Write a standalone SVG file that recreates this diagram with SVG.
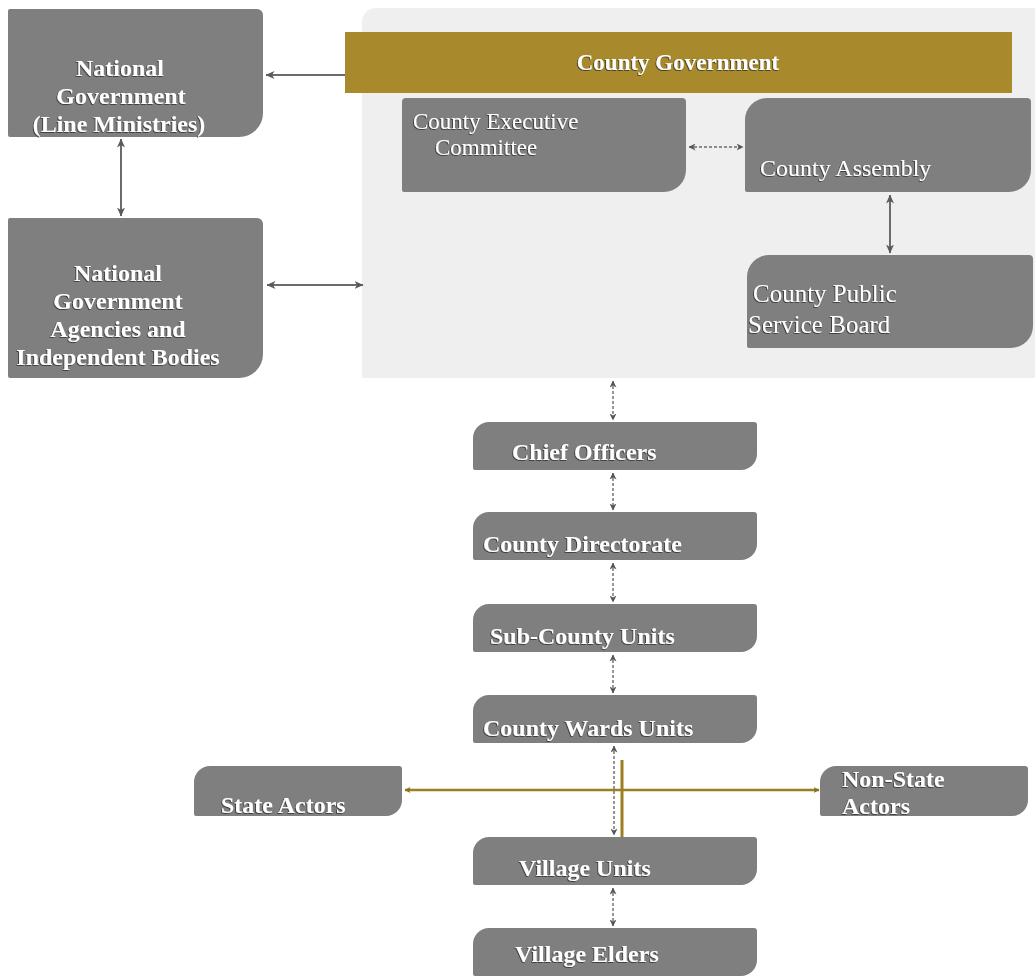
<svg xmlns="http://www.w3.org/2000/svg" xmlns:xlink="http://www.w3.org/1999/xlink" width="1035" height="976" viewBox="0 0 1035 976">
<style>
.box{fill:#7f7f7f}
.t{fill:#ffffff;font-family:"Liberation Serif","Times New Roman",serif;filter:url(#sh)}
.b{font-weight:bold;font-size:24px}
.r{font-weight:normal}
.c{text-anchor:middle}
.ln{stroke:#6b6b6b;stroke-width:2;fill:none}
.dl{stroke:#6b6b6b;stroke-width:1.4;stroke-dasharray:3 2;fill:none}
.gl{stroke:#9d7f22;fill:none}
</style>
<defs>
<filter id="sh" x="-5%" y="-20%" width="110%" height="140%">
<feDropShadow dx="-0.8" dy="0.8" stdDeviation="0.4" flood-color="#2a2a2a" flood-opacity="0.9"/>
</filter>
<marker id="ag" viewBox="0 0 9 8" refX="8.5" refY="4" markerWidth="9" markerHeight="8" markerUnits="userSpaceOnUse" orient="auto-start-reverse">
<path d="M0,0 L9,4 L0,8 L2.5,4 Z" fill="#5a5a5a"/>
</marker>
<marker id="as" viewBox="0 0 7 7" refX="6.5" refY="3.5" markerWidth="7" markerHeight="7" markerUnits="userSpaceOnUse" orient="auto-start-reverse">
<path d="M0,0 L7,3.5 L0,7 L2,3.5 Z" fill="#555555"/>
</marker>
<marker id="ao" viewBox="0 0 6 6" refX="5.5" refY="3" markerWidth="6" markerHeight="6" markerUnits="userSpaceOnUse" orient="auto-start-reverse">
<path d="M0,0 L6,3 L0,6 L1.5,3 Z" fill="#8a6f1c"/>
</marker>
<path id="cbox" d="M16,0 H281 A3,3 0 0 1 284,3 V32 A16,16 0 0 1 268,48 H2 A2,2 0 0 1 0,46 V16 A16,16 0 0 1 16,0 Z"/>
<path id="abox" d="M16,0 H205 A3,3 0 0 1 208,3 V34 A16,16 0 0 1 192,50 H2 A2,2 0 0 1 0,48 V16 A16,16 0 0 1 16,0 Z"/>
</defs>
<rect width="1035" height="976" fill="#ffffff"/>

<g id="county-government-panel">
<path d="M376,8 H1035 V378 H362 V22 A14,14 0 0 1 376,8 Z" fill="#efefef"/>
</g>

<g id="county-government">
<rect x="345" y="32" width="667" height="61" fill="#a8892c"/>
<text class="t b c" x="678" y="70" style="font-size:23px">County Government</text>
</g>

<g id="national-government">
<path class="box" d="M10,9 H257 A6,6 0 0 1 263,15 V113 A24,24 0 0 1 239,137 H10 A2,2 0 0 1 8,135 V11 A2,2 0 0 1 10,9 Z"/>
<text class="t b c" x="120" y="76">National</text>
<text class="t b c" x="121" y="104">Government</text>
<text class="t b c" x="119" y="132">(Line Ministries)</text>
</g>

<g id="national-agencies">
<path class="box" d="M10,218 H257 A6,6 0 0 1 263,224 V354 A24,24 0 0 1 239,378 H10 A2,2 0 0 1 8,376 V220 A2,2 0 0 1 10,218 Z"/>
<text class="t b c" x="118" y="281">National</text>
<text class="t b c" x="118" y="309">Government</text>
<text class="t b c" x="118" y="337">Agencies and</text>
<text class="t b c" x="118" y="365">Independent Bodies</text>
</g>

<g id="county-executive-committee">
<path class="box" d="M406,98 H682 A4,4 0 0 1 686,102 V170 A22,22 0 0 1 664,192 H404 A2,2 0 0 1 402,190 V102 A4,4 0 0 1 406,98 Z"/>
<text class="t r" x="413" y="129" style="font-size:23px">County Executive</text>
<text class="t r" x="435" y="155" style="font-size:23px">Committee</text>
</g>

<g id="county-assembly">
<path class="box" d="M767,98 H1027 A4,4 0 0 1 1031,102 V170 A22,22 0 0 1 1009,192 H747 A2,2 0 0 1 745,190 V120 A22,22 0 0 1 767,98 Z"/>
<text class="t r" x="760" y="176" style="font-size:24px">County Assembly</text>
</g>

<g id="county-public-service-board">
<path class="box" d="M769,255 H1029 A4,4 0 0 1 1033,259 V326 A22,22 0 0 1 1011,348 H749 A2,2 0 0 1 747,346 V277 A22,22 0 0 1 769,255 Z"/>
<text class="t r" x="753" y="302" style="font-size:25px">County Public</text>
<text class="t r" x="748" y="333" style="font-size:25px">Service Board</text>
</g>

<g id="chief-officers">
<use href="#cbox" class="box" x="473" y="422"/>
<text class="t b" x="512" y="460">Chief Officers</text>
</g>

<g id="county-directorate">
<use href="#cbox" class="box" x="473" y="512"/>
<text class="t b" x="483" y="552">County Directorate</text>
</g>

<g id="sub-county-units">
<use href="#cbox" class="box" x="473" y="604"/>
<text class="t b" x="490" y="644">Sub-County Units</text>
</g>

<g id="county-wards-units">
<use href="#cbox" class="box" x="473" y="695"/>
<text class="t b" x="483" y="736">County Wards Units</text>
</g>

<g id="state-actors">
<use href="#abox" class="box" x="194" y="766"/>
<text class="t b" x="221" y="813">State Actors</text>
</g>

<g id="non-state-actors">
<use href="#abox" class="box" x="820" y="766"/>
<text class="t b" x="842" y="787">Non-State</text>
<text class="t b" x="842" y="814">Actors</text>
</g>

<g id="village-units">
<use href="#cbox" class="box" x="473" y="837"/>
<text class="t b" x="519" y="876">Village Units</text>
</g>

<g id="village-elders">
<use href="#cbox" class="box" x="473" y="928"/>
<text class="t b" x="515" y="962">Village Elders</text>
</g>

<g id="connectors">
<line class="ln" x1="345" y1="75" x2="266" y2="75" marker-end="url(#ag)"/>
<line class="ln" x1="121" y1="139" x2="121" y2="216" marker-start="url(#ag)" marker-end="url(#ag)"/>
<line class="ln" x1="267" y1="285" x2="363" y2="285" marker-start="url(#ag)" marker-end="url(#ag)"/>
<line class="dl" x1="689" y1="147" x2="743" y2="147" marker-start="url(#as)" marker-end="url(#as)"/>
<line class="ln" x1="890" y1="195" x2="890" y2="253" marker-start="url(#ag)" marker-end="url(#ag)"/>
<line class="dl" x1="613" y1="381" x2="613" y2="420" marker-start="url(#as)" marker-end="url(#as)"/>
<line class="dl" x1="613" y1="473" x2="613" y2="510" marker-start="url(#as)" marker-end="url(#as)"/>
<line class="dl" x1="613" y1="563" x2="613" y2="602" marker-start="url(#as)" marker-end="url(#as)"/>
<line class="dl" x1="613" y1="655" x2="613" y2="693" marker-start="url(#as)" marker-end="url(#as)"/>
<line class="dl" x1="614" y1="746" x2="614" y2="835" marker-start="url(#as)" marker-end="url(#as)"/>
<line class="dl" x1="613" y1="888" x2="613" y2="926" marker-start="url(#as)" marker-end="url(#as)"/>
<line class="gl" x1="405" y1="790" x2="819" y2="790" stroke-width="2.5" marker-start="url(#ao)" marker-end="url(#ao)"/>
<line class="gl" x1="622" y1="760" x2="622" y2="837" stroke-width="3"/>
</g>
</svg>
